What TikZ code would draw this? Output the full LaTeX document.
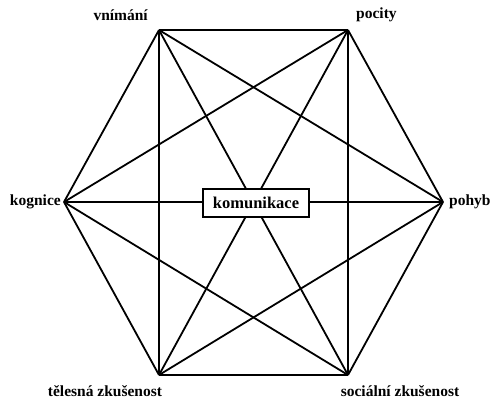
\documentclass[tikz,border=0pt]{standalone}
\usepackage{fontspec}
\setmainfont{Liberation Serif}
\usetikzlibrary{positioning}

\begin{document}
\begin{tikzpicture}[x=1pt, y=-1pt,
  every node/.style={font=\fontsize{15.5}{17}\selectfont\bfseries, inner sep=0pt},
  edge/.style={line width=1.8pt, line join=round},
  center/.style={draw, fill=white, line width=1.8pt, minimum width=106pt, minimum height=28pt, font=\fontsize{16.5}{18}\selectfont\bfseries}]

\useasboundingbox (0,0) rectangle (491,399);

% ---------------- hexagon corners ----------------
\coordinate (vnim) at (159,30);
\coordinate (poc) at (348,30);
\coordinate (poh) at (443,202);
\coordinate (soc) at (348,375);
\coordinate (tel) at (159,375);
\coordinate (kog) at (64,202);

% ---------------- every corner to every other ----------------
\foreach \a/\b in {vnim/poc, vnim/poh, vnim/soc, vnim/tel, vnim/kog,
                   poc/poh, poc/soc, poc/tel, poc/kog,
                   poh/soc, poh/tel, poh/kog,
                   soc/tel, soc/kog,
                   tel/kog}
  \draw[edge] (\a) -- (\b);

% ---------------- labels ----------------
\node[anchor=east] (lvnim) at (148,15) {vnímání};
\node[anchor=west] (lpoc) at (356,15) {pocity};
\node[anchor=west] (lpoh) at (449,202) {pohyb};
\node (lsoc) at (400,391) {sociální zkušenost};
\node (ltel) at (105,391) {tělesná zkušenost};
\node[anchor=east] (lkog) at (61,202) {kognice};

\node[center] (kom) at (256,203) {komunikace};
\end{tikzpicture}
\end{document}
